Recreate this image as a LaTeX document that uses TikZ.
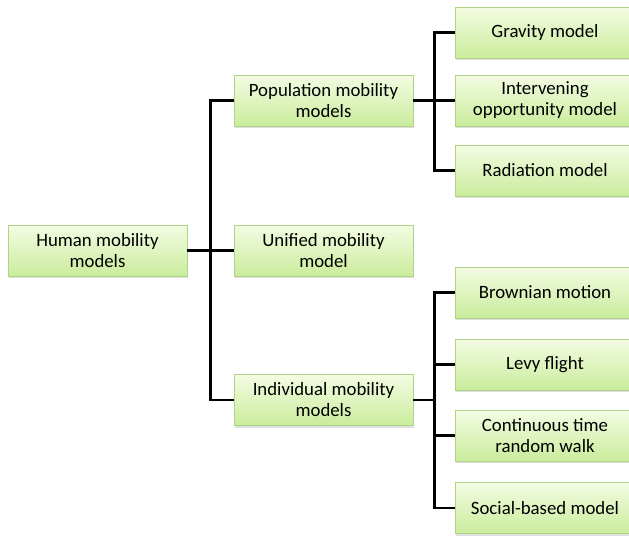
\documentclass[tikz,border=0pt]{standalone}
\usepackage{fontspec}
\setmainfont{Carlito}
\usetikzlibrary{calc,shadows}
\definecolor{boxtop}{HTML}{F4FCE3}
\definecolor{boxbot}{HTML}{CAEC9C}
\definecolor{boxline}{HTML}{AED586}
\begin{document}
\begin{tikzpicture}[x=1pt,y=-1pt,
	mbox/.style={draw=boxline,line width=0.8pt,top color=boxtop,bottom color=boxbot,minimum width=179pt,minimum height=51pt,inner sep=0pt,align=center,font=\fontsize{18.8}{21}\selectfont,drop shadow={shadow xshift=0.5pt,shadow yshift=-2pt,opacity=0.25,fill=gray}},
	rbox/.style={mbox,minimum width=180pt},
	link/.style={black,line width=2.2pt}]
	\clip (0,0) rectangle (629,536);
	\node[mbox] (hum) at (97.5,250.5) {Human mobility\\models};
	\node[mbox] (pop) at (323.5,100.5) {Population mobility\\models};
	\node[mbox] (uni) at (323.5,250.5) {Unified mobility\\model};
	\node[mbox] (ind) at (323.5,400) {Individual mobility\\models};
	
	\node[rbox] (grav) at (545,32.5) {Gravity model};
	\node[rbox] (interv) at (545,100.5) {Intervening\\opportunity model};
	\node[rbox] (rad) at (545,170.5) {Radiation model};
	\node[rbox] (brown) at (545,292.5) {Brownian motion};
	\node[rbox] (levy) at (545,364.5) {Levy flight};
	\node[rbox] (ctrw) at (545,435.5) {Continuous time\\random walk};
	\node[rbox] (social) at (545,508) {Social-based model};
	
	\coordinate (hb) at ($(hum.east)!0.5!(uni.west)$);
	\coordinate (pb) at ($(pop.east)+(21,0)$);
	\coordinate (ib) at ($(ind.east)+(21,0)$);
	\draw[link] (hum) -- (uni);
	\draw[link] (pop.west) -| (hb) |- (ind.west);
	\draw[link] (pop) -- (interv);
	\draw[link] (grav.west) -| (pb) |- (rad.west);
	\draw[link] (ind.east) -- (ib);
	\draw[link] (brown.west) -| (ib) |- (social.west);
	\draw[link] (levy.west) -- (levy.west -| ib);
	\draw[link] (ctrw.west) -- (ctrw.west -| ib);
\end{tikzpicture}
\end{document}
